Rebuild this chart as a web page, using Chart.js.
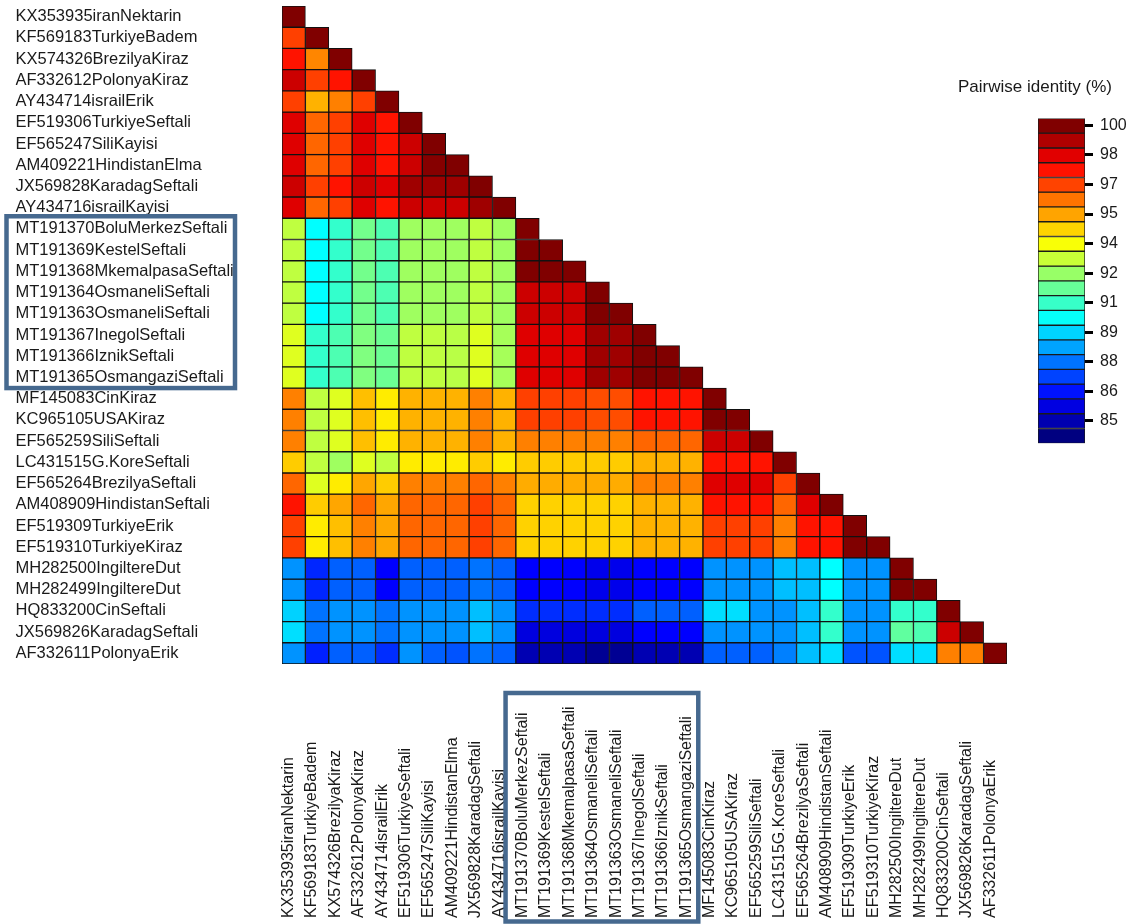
<!DOCTYPE html>
<html>
<head>
<meta charset="utf-8">
<script src="https://cdn.jsdelivr.net/npm/chart.js@4.4.1/dist/chart.umd.min.js"></script>
<style>
  html, body { margin: 0; padding: 0; background: #fff; }
  #wrap { position: relative; width: 1139px; height: 924px; }
  #chart-heatmap { position: absolute; left: 0; top: 0; }
  #chart-key { position: absolute; left: 940px; top: 60px; }
</style>
</head>
<body>
<div id="wrap">
  <canvas id="chart-heatmap" width="1139" height="924"></canvas>
  <canvas id="chart-key" width="190" height="400"></canvas>
</div>
<script>
const sequenceNames = [
  'KX353935iranNektarin', 'KF569183TurkiyeBadem', 'KX574326BrezilyaKiraz', 'AF332612PolonyaKiraz',
  'AY434714israilErik', 'EF519306TurkiyeSeftali', 'EF565247SiliKayisi', 'AM409221HindistanElma',
  'JX569828KaradagSeftali', 'AY434716israilKayisi', 'MT191370BoluMerkezSeftali', 'MT191369KestelSeftali',
  'MT191368MkemalpasaSeftali', 'MT191364OsmaneliSeftali', 'MT191363OsmaneliSeftali', 'MT191367InegolSeftali',
  'MT191366IznikSeftali', 'MT191365OsmangaziSeftali', 'MF145083CinKiraz', 'KC965105USAKiraz',
  'EF565259SiliSeftali', 'LC431515G.KoreSeftali', 'EF565264BrezilyaSeftali', 'AM408909HindistanSeftali',
  'EF519309TurkiyeErik', 'EF519310TurkiyeKiraz', 'MH282500IngiltereDut', 'MH282499IngiltereDut',
  'HQ833200CinSeftali', 'JX569826KaradagSeftali', 'AF332611PolonyaErik',
];

// pairwise identity (%), lower triangle, row i has i+1 values
const identity = [
  [100],
  [97.0, 100],
  [97.7, 95.9, 100],
  [98.8, 97.0, 97.7, 100],
  [97.0, 95.2, 96.0, 97.0, 100],
  [98.5, 96.4, 97.0, 98.5, 97.7, 100],
  [98.5, 96.4, 97.0, 98.5, 97.7, 98.8, 100],
  [98.5, 96.4, 97.0, 98.5, 97.7, 98.8, 99.9, 100],
  [98.8, 97.0, 97.7, 98.8, 98.5, 99.5, 99.5, 99.5, 100],
  [98.5, 96.4, 97.0, 98.5, 97.7, 98.8, 98.8, 98.8, 99.5, 100],
  [93.0, 90.0, 90.8, 91.8, 91.2, 92.5, 92.5, 92.5, 93.0, 92.5, 100],
  [93.0, 90.0, 90.8, 91.8, 91.2, 92.5, 92.5, 92.5, 93.0, 92.5, 100, 100],
  [93.0, 90.0, 90.8, 91.8, 91.2, 92.5, 92.5, 92.5, 93.0, 92.5, 100, 100, 100],
  [93.0, 90.0, 90.8, 91.8, 91.2, 92.5, 92.5, 92.5, 93.0, 92.5, 98.8, 98.8, 98.8, 100],
  [93.0, 90.0, 90.8, 91.8, 91.2, 92.5, 92.5, 92.5, 93.0, 92.5, 98.8, 98.8, 98.8, 100, 100],
  [93.5, 90.8, 91.2, 92.0, 91.7, 93.0, 93.0, 92.9, 93.5, 92.6, 98.5, 98.5, 98.5, 99.5, 99.5, 100],
  [93.5, 90.8, 91.2, 92.0, 91.7, 93.0, 93.0, 92.9, 93.5, 92.6, 98.5, 98.5, 98.5, 99.5, 99.5, 100, 100],
  [93.5, 90.8, 91.2, 92.0, 91.7, 93.0, 93.0, 92.9, 93.5, 92.6, 98.5, 98.5, 98.5, 99.5, 99.5, 100, 100, 100],
  [96.0, 93.0, 93.5, 95.0, 94.3, 95.2, 95.2, 95.2, 96.0, 95.2, 97.0, 97.0, 97.0, 96.8, 96.8, 97.7, 97.7, 97.7, 100],
  [96.0, 93.0, 93.5, 95.0, 94.3, 95.2, 95.2, 95.2, 96.0, 95.2, 97.0, 97.0, 97.0, 96.8, 96.8, 97.7, 97.7, 97.7, 100, 100],
  [96.0, 93.0, 93.5, 95.0, 94.3, 95.2, 95.2, 95.2, 96.0, 95.2, 96.0, 96.0, 96.0, 96.0, 96.0, 96.4, 96.4, 96.4, 98.8, 98.8, 100],
  [94.8, 93.0, 92.5, 93.5, 93.0, 94.3, 94.3, 94.3, 94.8, 94.3, 94.8, 94.8, 94.8, 94.8, 94.8, 95.2, 95.2, 95.2, 97.7, 97.7, 97.7, 100],
  [96.4, 93.5, 94.3, 95.4, 94.8, 96.0, 96.0, 96.0, 96.4, 96.0, 95.3, 95.3, 95.3, 95.3, 95.3, 96.0, 96.0, 96.0, 98.5, 98.5, 98.5, 97.0, 100],
  [97.7, 94.8, 95.4, 96.4, 95.4, 96.4, 96.4, 96.4, 97.0, 96.4, 94.7, 94.7, 94.7, 94.7, 94.7, 95.2, 95.2, 95.2, 97.7, 97.7, 97.7, 96.4, 98.5, 100],
  [97.0, 94.3, 95.0, 96.0, 95.4, 96.4, 96.4, 96.4, 97.0, 96.4, 94.7, 94.7, 94.7, 94.7, 94.7, 95.2, 95.2, 95.2, 97.0, 97.0, 97.0, 96.0, 97.7, 97.7, 100],
  [97.0, 94.3, 95.0, 96.0, 95.4, 96.4, 96.4, 96.4, 97.0, 96.4, 94.7, 94.7, 94.7, 94.7, 94.7, 95.2, 95.2, 95.2, 97.0, 97.0, 97.0, 96.0, 97.7, 97.7, 100, 100],
  [88.3, 86.6, 87.5, 87.5, 86.0, 87.5, 87.5, 87.5, 87.8, 87.5, 86.0, 86.0, 86.0, 85.7, 85.7, 86.0, 86.0, 86.0, 88.3, 88.3, 88.3, 89.0, 89.0, 90.0, 88.3, 88.3, 100],
  [88.3, 86.6, 87.5, 87.5, 86.0, 87.5, 87.5, 87.5, 87.8, 87.5, 86.0, 86.0, 86.0, 85.7, 85.7, 86.0, 86.0, 86.0, 88.3, 88.3, 88.3, 89.0, 89.0, 90.0, 88.3, 88.3, 100, 100],
  [89.3, 87.8, 88.3, 88.3, 87.8, 88.3, 88.3, 88.3, 89.0, 88.3, 86.7, 86.7, 86.7, 86.7, 86.7, 87.5, 87.5, 87.5, 89.5, 89.5, 88.3, 88.3, 89.0, 90.8, 88.3, 88.3, 90.8, 90.8, 100],
  [89.5, 87.8, 88.3, 88.3, 87.8, 88.3, 88.3, 88.3, 89.0, 88.3, 85.5, 85.5, 85.5, 85.5, 85.5, 86.0, 86.0, 86.0, 88.3, 88.3, 88.3, 88.3, 89.0, 90.8, 88.3, 88.3, 91.5, 91.2, 98.8, 100],
  [88.3, 86.5, 87.5, 87.5, 86.7, 88.3, 87.5, 87.3, 87.8, 87.5, 84.8, 84.8, 84.8, 84.3, 84.3, 84.8, 84.8, 84.8, 87.5, 87.5, 87.5, 88.0, 89.0, 89.5, 87.3, 87.3, 89.5, 89.5, 96.0, 96.0, 100],
];

// colour key: bin edges (top to bottom), bin colours, ticks
const keyEdges = [100.34, 99.59, 98.84, 98.09, 97.34, 96.60, 95.85, 95.10, 94.35, 93.60, 92.85, 92.10,
  91.35, 90.60, 89.85, 89.11, 88.36, 87.61, 86.86, 86.11, 85.36, 84.61, 83.86];
const keyColors = ['#800000', '#b00000', '#e10000', '#ff1200', '#ff4300', '#ff7300', '#ffa400', '#ffd400',
  '#f9ff06', '#c8ff37', '#98ff67', '#67ff98', '#37ffc8', '#06fff9', '#00d4ff', '#00a4ff', '#0073ff',
  '#0043ff', '#0012ff', '#0000e1', '#0000b0', '#000080'];
const keyTickValues = [100, 98.49, 97, 95.49, 94, 92.49, 91, 89.49, 88, 86.49, 85];
const keyTickLabels = ['100', '98', '97', '95', '94', '92', '91', '89', '88', '86', '85'];

const FAMILY = "'Liberation Sans', Arial, sans-serif";
const TEXT = '#1a1a1a';
const CELL_MIN = 84;
const CELL_MAX = 100;
const LABEL_LEFT = 15.5;
const MATRIX_LEFT = 282;

const jetColor = (value) => {
  const t = Math.min(Math.max((value - CELL_MIN) / (CELL_MAX - CELL_MIN), 0), 1);
  const ch = (x) => Math.round(255 * Math.min(Math.max(x, 0), 1));
  return `rgb(${ch(1.5 - Math.abs(4 * t - 3))}, ${ch(1.5 - Math.abs(4 * t - 2))}, ${ch(1.5 - Math.abs(4 * t - 1))})`;
};

const annotations = {
  id: 'annotations',
  afterDraw(chart) {
    const { ctx, chartArea } = chart;
    const x = chart.scales.x;
    const y = chart.scales.y;
    ctx.save();
    // column names, reading upwards from a common baseline
    ctx.fillStyle = TEXT;
    ctx.font = `16px ${FAMILY}`;
    ctx.textAlign = 'left';
    ctx.textBaseline = 'middle';
    sequenceNames.forEach((name, j) => {
      ctx.save();
      ctx.translate(x.getPixelForValue(j) - 5, 918);
      ctx.rotate(-Math.PI / 2);
      ctx.fillText(name, 0, 0);
      ctx.restore();
    });
    // boxes around the MT19136x group
    ctx.strokeStyle = '#46698f';
    ctx.lineWidth = 4.5;
    const top = y.getPixelForValue(10) - 2;
    const bottom = y.getPixelForValue(18);
    ctx.strokeRect(6.5, top, 235 - 6.5, bottom - top);
    const left = x.getPixelForValue(10) - 22;
    const right = x.getPixelForValue(17) + 7;
    const boxTop = chartArea.bottom + 29;
    ctx.strokeRect(left, boxTop, right - left, 921.5 - boxTop);
    ctx.restore();
  },
};

new Chart(document.getElementById('chart-heatmap'), {
  type: 'bar',
  data: {
    labels: sequenceNames,
    datasets: identity.map((row, i) => ({
      label: sequenceNames[i],
      data: sequenceNames.map((_, j) => (j < row.length ? [i, i + 1] : null)),
      backgroundColor: sequenceNames.map((_, j) => (j < row.length ? jetColor(row[j]) : 'transparent')),
      borderColor: '#111',
      borderWidth: 1,
      borderSkipped: false,
      grouped: false,
      barPercentage: 1,
      categoryPercentage: 1,
    })),
  },
  options: {
    responsive: false,
    animation: false,
    events: [],
    layout: { padding: { left: LABEL_LEFT, top: 6, right: 132, bottom: 260 } },
    plugins: {
      legend: { display: false },
      tooltip: { enabled: false },
    },
    scales: {
      x: { display: false },
      y: {
        type: 'linear',
        min: 0,
        max: sequenceNames.length,
        reverse: true,
        afterBuildTicks: (axis) => {
          axis.ticks = sequenceNames.map((_, i) => ({ value: i + 0.5 }));
        },
        afterFit: (axis) => {
          axis.width = MATRIX_LEFT - LABEL_LEFT;
          axis.paddingTop = 0;
          axis.paddingBottom = 0;
        },
        ticks: {
          autoSkip: false,
          crossAlign: 'far',
          padding: 0,
          color: TEXT,
          font: { family: FAMILY, size: 16.5 },
          callback: (value, index) => sequenceNames[index],
        },
        grid: { display: false, drawTicks: false },
        border: { display: false },
      },
    },
  },
  plugins: [annotations],
});

new Chart(document.getElementById('chart-key'), {
  type: 'bar',
  data: {
    labels: [''],
    datasets: keyColors.map((color, k) => ({
      data: [[keyEdges[k + 1], keyEdges[k]]],
      backgroundColor: color,
      borderColor: '#1a1a1a',
      borderWidth: 1,
      borderSkipped: false,
      grouped: false,
      barPercentage: 1,
      categoryPercentage: 1,
    })),
  },
  options: {
    responsive: false,
    animation: false,
    events: [],
    layout: { padding: { bottom: 16.7 } },
    plugins: {
      legend: { display: false },
      tooltip: { enabled: false },
      title: {
        display: true,
        text: 'Pairwise identity (%)',
        color: TEXT,
        font: { family: FAMILY, size: 17, weight: 'normal' },
        padding: { top: 17, bottom: 21 },
      },
    },
    scales: {
      x: { display: false },
      y: {
        position: 'right',
        min: keyEdges[keyEdges.length - 1],
        max: keyEdges[0],
        afterBuildTicks: (axis) => {
          axis.ticks = keyTickValues.map((value) => ({ value }));
        },
        afterFit: (axis) => {
          axis.width = 45;
          axis.paddingTop = 0;
          axis.paddingBottom = 0;
        },
        ticks: {
          autoSkip: false,
          padding: 7,
          color: TEXT,
          font: { family: FAMILY, size: 16 },
          callback: (value, index) => keyTickLabels[index],
        },
        grid: { drawOnChartArea: false, tickLength: 8, tickWidth: 3, tickColor: '#000' },
        border: { display: false },
      },
      yLeft: {
        type: 'linear',
        axis: 'y',
        position: 'left',
        ticks: { display: false },
        grid: { display: false, drawTicks: false },
        border: { display: false },
        afterFit: (axis) => {
          axis.width = 98;
        },
      },
    },
  },
});
</script>
</body>
</html>
